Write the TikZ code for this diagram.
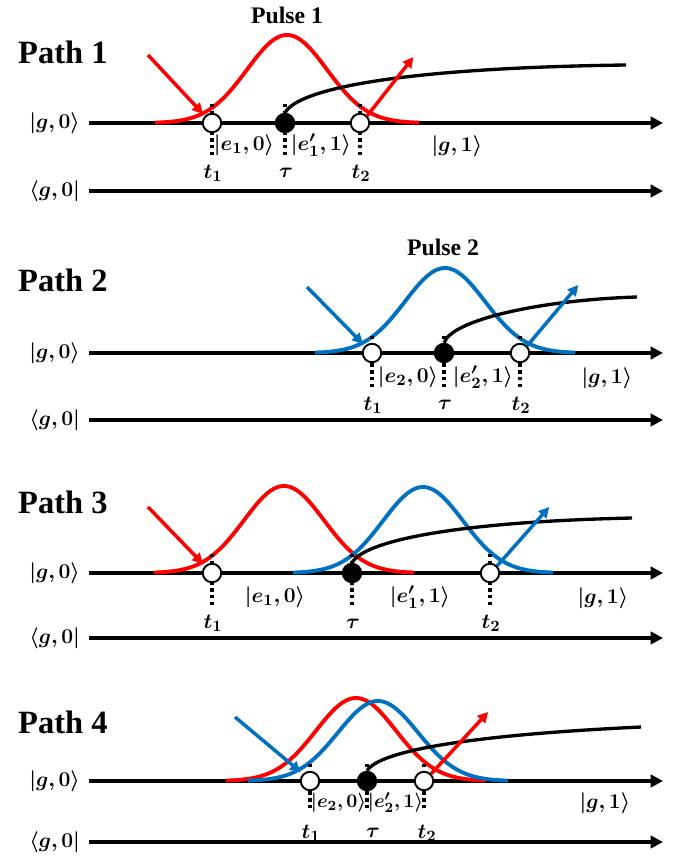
\documentclass[tikz,border=0pt]{standalone}
\usepackage{amsmath}
\usepackage{fontspec}
\setmainfont{Liberation Serif}
\usepackage{bm}
\usepackage{tikz}
\usetikzlibrary{
  arrows.meta,
  positioning,
  shapes.geometric
}
\definecolor{pulsered}{HTML}{FF0000}
\definecolor{pulseblue}{HTML}{0070C0}

\begin{document}
\begin{tikzpicture}[
  x=0.02cm, y=-0.02cm,
  pathlabel/.style={font=\fontsize{18.5}{20}\selectfont\bfseries, anchor=west},
  pulselabel/.style={font=\fontsize{13.5}{15}\selectfont\bfseries},
  statelabel/.style={font=\fontsize{12.5}{14}\selectfont, inner sep=1pt},
  tightlabel/.style={font=\fontsize{11.3}{13}\selectfont, inner sep=0pt},
  axislabel/.style={statelabel, anchor=east},
  timeaxis/.style={line width=1.9pt, shorten <=4pt,
    -{Triangle[length=7pt, width=7pt]}},
  opendot/.style={circle, draw=black, line width=1.1pt, fill=white,
    minimum size=0.37cm, inner sep=0pt},
  fulldot/.style={opendot, fill=black},
  marker/.style={dotted, line width=1.9pt},
  redpulse/.style={pulsered, line width=2.2pt},
  bluepulse/.style={pulseblue, line width=2.2pt},
  photon/.style={line width=2pt, shorten >=1.5pt,
    -{Triangle[length=6pt, width=6pt]}},
  decay/.style={line width=1.9pt}
]
\useasboundingbox (0,0) rectangle (683,861);

% PATH 1
\node[pathlabel] (path1) at (12,52) {Path 1};
\node[pulselabel] (pulse1) at (287,15) {Pulse 1};
\node[axislabel] (p1ket) at (82,123) {$\bm{|g,0\rangle}$};
\node[axislabel] (p1bra) at (82,191) {$\bm{\langle g,0|}$};
\coordinate (p1ketend) at (663,123);
\coordinate (p1braend) at (663,191);
\coordinate (p1t1) at (212,123);
\coordinate (p1tau) at (285,123);
\coordinate (p1t2) at (360,123);
\draw[timeaxis] (p1ket.east) -- (p1ketend);
\draw[timeaxis] (p1bra.east) -- (p1braend);
\draw[redpulse] plot[domain=-132:132, samples=90]
  ({287+\x},{123-88*exp(-0.5*(\x/40)*(\x/40))});
\foreach \t in {p1t1,p1tau,p1t2}
  \draw[marker] (\t) ++(0,-19) -- ++(0,53);
\node[opendot] (p1d1) at (p1t1) {};
\node[fulldot] (p1dtau) at (p1tau) {};
\node[opendot] (p1d2) at (p1t2) {};
\coordinate (p1end) at (626,65);
\draw[decay] (p1dtau.north) .. controls +(13,-24) and +(-226,3) .. (p1end);
\coordinate (p1in) at (148,55);
\coordinate (p1out) at (415,55);
\draw[photon, pulsered] (p1in) -- (p1d1.north west);
\draw[photon, pulsered] (p1d2.north east) -- (p1out);
\node[statelabel] (p1s1) at (244,145) {$\bm{|e_1,0\rangle}$};
\node[statelabel] (p1s2) at (321,145) {$\bm{|e_1',1\rangle}$};
\node[statelabel] (p1s3) at (457,146) {$\bm{|g,1\rangle}$};
\node[statelabel] (p1l1) at (213,173) {$\bm{t_1}$};
\node[statelabel] (p1l2) at (286,173) {$\bm{\tau}$};
\node[statelabel] (p1l3) at (361,173) {$\bm{t_2}$};

% PATH 2
\node[pathlabel] (path2) at (12,280) {Path 2};
\node[pulselabel] (pulse2) at (443,247) {Pulse 2};
\node[axislabel] (p2ket) at (82,353) {$\bm{|g,0\rangle}$};
\node[axislabel] (p2bra) at (82,420) {$\bm{\langle g,0|}$};
\coordinate (p2ketend) at (663,353);
\coordinate (p2braend) at (663,420);
\coordinate (p2t1) at (372,353);
\coordinate (p2tau) at (444,353);
\coordinate (p2t2) at (520,353);
\draw[timeaxis] (p2ket.east) -- (p2ketend);
\draw[timeaxis] (p2bra.east) -- (p2braend);
\draw[bluepulse] plot[domain=-130:130, samples=90]
  ({445+\x},{353-85*exp(-0.5*(\x/40)*(\x/40))});
\foreach \t in {p2t1,p2tau,p2t2}
  \draw[marker] (\t) ++(0,-17) -- ++(0,51);
\node[opendot] (p2d1) at (p2t1) {};
\node[fulldot] (p2dtau) at (p2tau) {};
\node[opendot] (p2d2) at (p2t2) {};
\coordinate (p2end) at (637,297);
\draw[decay] (p2dtau.north) .. controls +(8,-23) and +(-97,3) .. (p2end);
\coordinate (p2in) at (307,287);
\coordinate (p2out) at (580,283);
\draw[photon, pulseblue] (p2in) -- (p2d1.north west);
\draw[photon, pulseblue] (p2d2.north east) -- (p2out);
\node[statelabel] (p2s1) at (408,377) {$\bm{|e_2,0\rangle}$};
\node[statelabel] (p2s2) at (483,377) {$\bm{|e_2',1\rangle}$};
\node[statelabel] (p2s3) at (607,378) {$\bm{|g,1\rangle}$};
\node[statelabel] (p2l1) at (373,405) {$\bm{t_1}$};
\node[statelabel] (p2l2) at (445,405) {$\bm{\tau}$};
\node[statelabel] (p2l3) at (521,405) {$\bm{t_2}$};

% PATH 3
\node[pathlabel] (path3) at (12,502) {Path 3};
\node[axislabel] (p3ket) at (82,573) {$\bm{|g,0\rangle}$};
\node[axislabel] (p3bra) at (82,638) {$\bm{\langle g,0|}$};
\coordinate (p3ketend) at (663,573);
\coordinate (p3braend) at (663,638);
\coordinate (p3t1) at (212,573);
\coordinate (p3tau) at (352,573);
\coordinate (p3t2) at (490,573);
\draw[timeaxis] (p3ket.east) -- (p3ketend);
\draw[timeaxis] (p3bra.east) -- (p3braend);
\draw[redpulse] plot[domain=-130:130, samples=90]
  ({284+\x},{573-87*exp(-0.5*(\x/40)*(\x/40))});
\draw[bluepulse] plot[domain=-130:130, samples=90]
  ({423+\x},{573-86*exp(-0.5*(\x/40)*(\x/40))});
\foreach \t in {p3t1,p3tau,p3t2}
  \draw[marker] (\t) ++(0,-19) -- ++(0,53);
\node[opendot] (p3d1) at (p3t1) {};
\node[fulldot] (p3dtau) at (p3tau) {};
\node[opendot] (p3d2) at (p3t2) {};
\coordinate (p3end) at (632,518);
\draw[decay] (p3dtau.north) .. controls +(11,-21) and +(-182,4) .. (p3end);
\coordinate (p3in) at (148,507);
\coordinate (p3out) at (551,505);
\draw[photon, pulsered] (p3in) -- (p3d1.north west);
\draw[photon, pulseblue] (p3d2.north east) -- (p3out);
\node[statelabel] (p3s1) at (275,597) {$\bm{|e_1,0\rangle}$};
\node[statelabel] (p3s2) at (420,597) {$\bm{|e_1',1\rangle}$};
\node[statelabel] (p3s3) at (603,598) {$\bm{|g,1\rangle}$};
\node[statelabel] (p3l1) at (213,623) {$\bm{t_1}$};
\node[statelabel] (p3l2) at (353,624) {$\bm{\tau}$};
\node[statelabel] (p3l3) at (491,623) {$\bm{t_2}$};

% PATH 4
\node[pathlabel] (path4) at (12,722) {Path 4};
\node[axislabel] (p4ket) at (82,781) {$\bm{|g,0\rangle}$};
\node[axislabel] (p4bra) at (82,842) {$\bm{\langle g,0|}$};
\coordinate (p4ketend) at (663,781);
\coordinate (p4braend) at (663,842);
\coordinate (p4t1) at (310,781);
\coordinate (p4tau) at (367,781);
\coordinate (p4t2) at (424,781);
\draw[timeaxis] (p4ket.east) -- (p4ketend);
\draw[timeaxis] (p4bra.east) -- (p4braend);
\draw[redpulse] plot[domain=-130:130, samples=90]
  ({356+\x},{781-83*exp(-0.5*(\x/40)*(\x/40))});
\draw[bluepulse] plot[domain=-130:130, samples=90]
  ({378+\x},{781-80*exp(-0.5*(\x/40)*(\x/40))});
\foreach \t in {p4t1,p4tau,p4t2}
  \draw[marker] (\t) ++(0,-17) -- ++(0,46);
\node[opendot] (p4d1) at (p4t1) {};
\node[fulldot] (p4dtau) at (p4tau) {};
\node[opendot] (p4d2) at (p4t2) {};
\coordinate (p4end) at (641,727);
\draw[decay] (p4dtau.north) .. controls +(12,-20) and +(-171,8) .. (p4end);
\coordinate (p4in) at (235,717);
\coordinate (p4out) at (490,710);
\draw[photon, pulseblue] (p4in) -- (p4d1.north west);
\draw[photon, pulsered] (p4d2.north east) -- (p4out);
\node[tightlabel] (p4s1) at (338.5,803) {$\bm{|e_2,0\rangle}$};
\node[tightlabel] (p4s2) at (395.5,803) {$\bm{|e_2',1\rangle}$};
\node[statelabel] (p4s3) at (605,803) {$\bm{|g,1\rangle}$};
\node[statelabel] (p4l1) at (311,833) {$\bm{t_1}$};
\node[statelabel] (p4l2) at (373,833) {$\bm{\tau}$};
\node[statelabel] (p4l3) at (427,833) {$\bm{t_2}$};

\end{tikzpicture}
\end{document}
